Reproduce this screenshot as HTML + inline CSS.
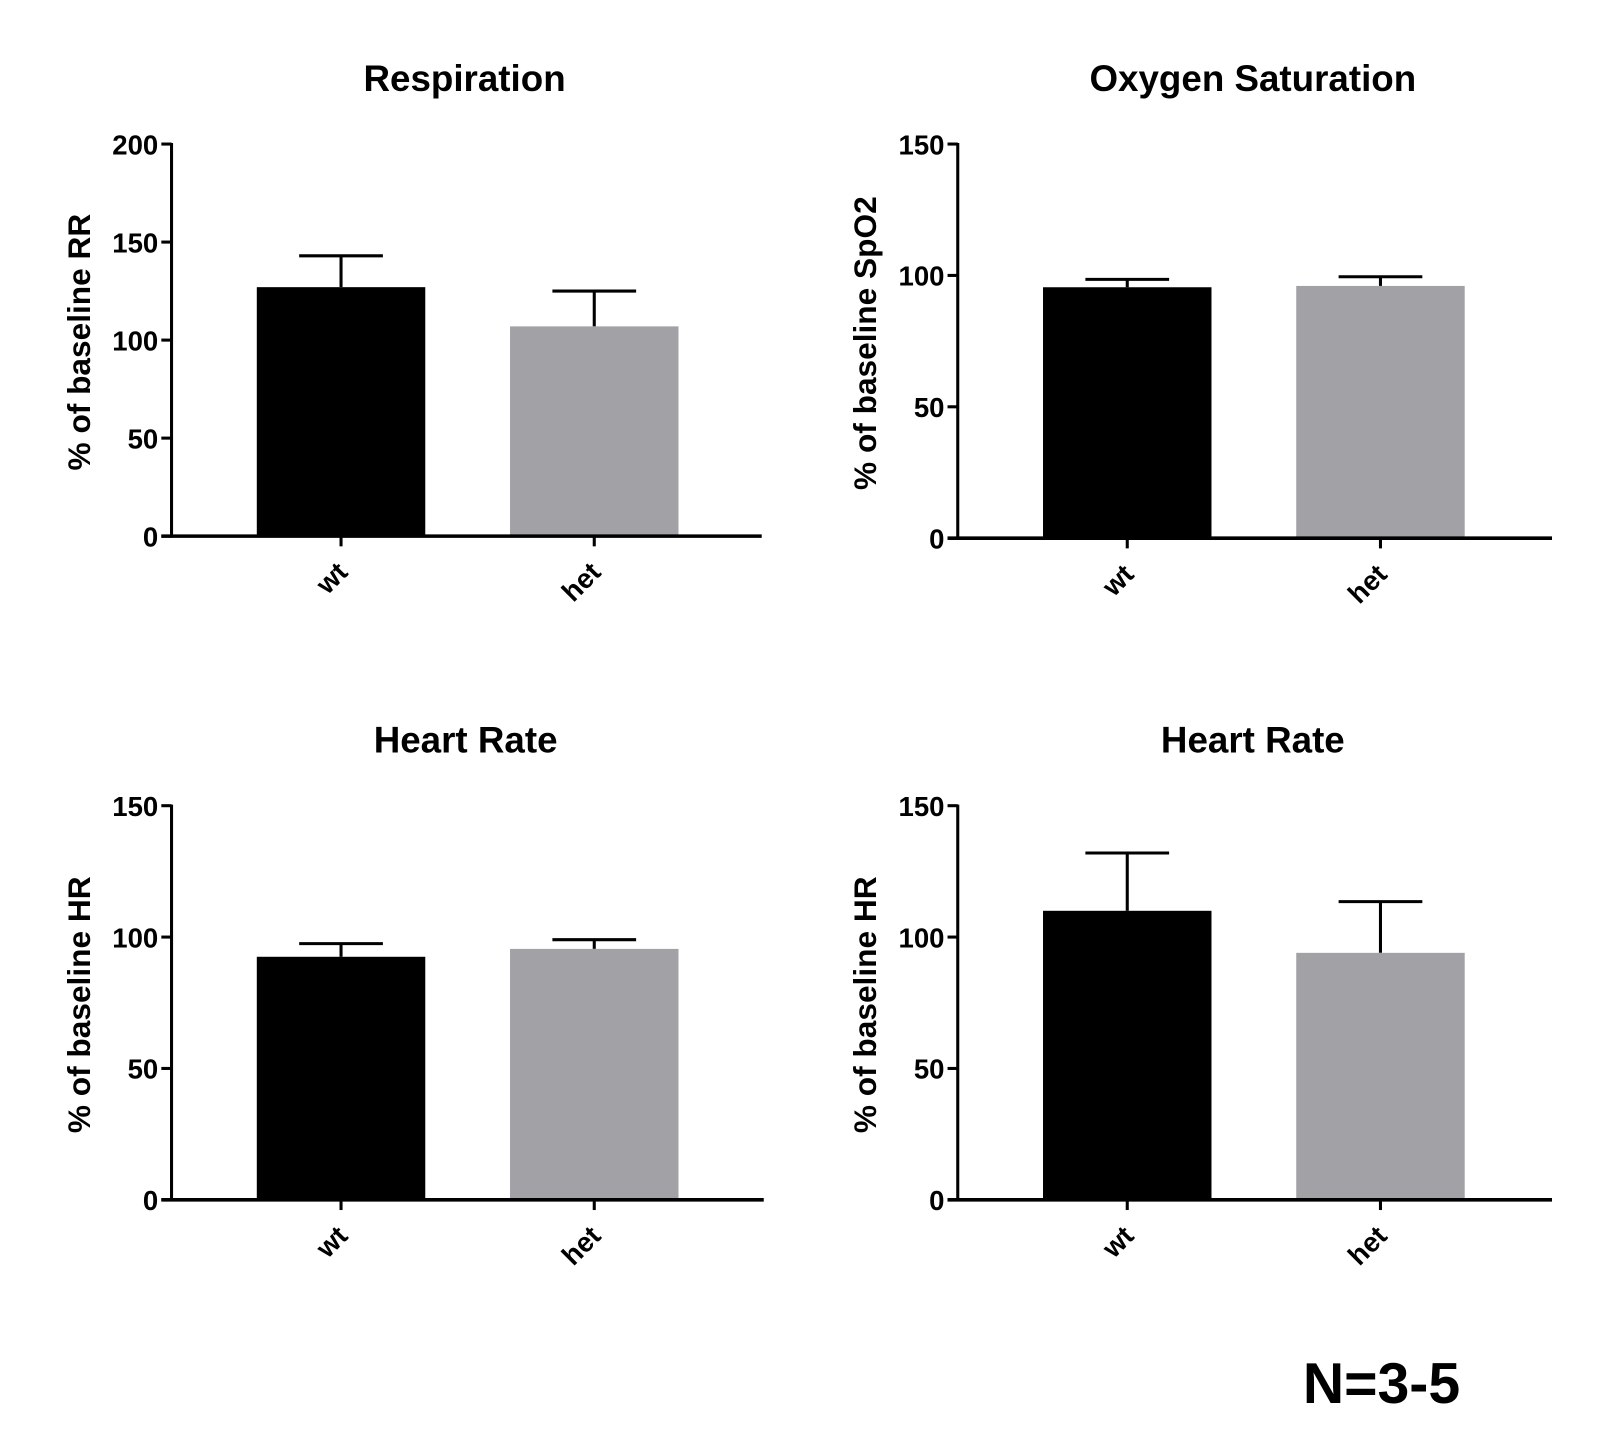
<!DOCTYPE html>
<html><head><meta charset="utf-8"><style>
html,body{margin:0;padding:0;background:#fff;}
svg{display:block;font-family:"Liberation Sans",Arial,sans-serif;font-weight:bold;}
</style></head><body>
<svg id="fig" width="1600" height="1447" viewBox="0 0 1567 1417" xmlns="http://www.w3.org/2000/svg">
<text x="1353" y="1374" font-size="56" text-anchor="middle">N=3-5</text>
</svg>
<script>
const categories = ["wt", "het"];
const titles = ["Respiration", "Oxygen Saturation", "Heart Rate", "Heart Rate"];
const yLabels = ["% of baseline RR", "% of baseline SpO2", "% of baseline HR", "% of baseline HR"];
const yMaxes = [200, 150, 150, 150];
const tickSteps = [50, 50, 50, 50];
const meansResp = [127, 107];
const errResp = [143, 125];
const meansSpO2 = [95.5, 96];
const errSpO2 = [98.5, 99.5];
const meansHR1 = [92.5, 95.5];
const errHR1 = [97.5, 99];
const meansHR2 = [110, 94];
const errHR2 = [132, 113.5];
const allMeans = [meansResp, meansSpO2, meansHR1, meansHR2];
const allErr = [errResp, errSpO2, errHR1, errHR2];
const colors = ["#000000", "#a2a1a6"];

const svg = document.getElementById('fig');
const NS = "http://www.w3.org/2000/svg";
function mk(tag, attrs, parent) {
  const e = document.createElementNS(NS, tag);
  for (const k in attrs) e.setAttribute(k, attrs[k]);
  (parent || svg).appendChild(e);
  return e;
}
const panels = [
  {ax: 168, right: 746, y0: 525, yTop: 141, titleY: 89},
  {ax: 938, right: 1520, y0: 527, yTop: 141, titleY: 89},
  {ax: 168, right: 748, y0: 1175, yTop: 789, titleY: 737},
  {ax: 938, right: 1520, y0: 1175, yTop: 789, titleY: 737}
];
panels.forEach((p, i) => {
  const g = mk('g', {});
  
  
  const yMax = yMaxes[i];
  const Y = v => p.y0 - (v / yMax) * (p.y0 - p.yTop);
  const barW = 165;
  const centers = [p.ax + 166, p.ax + 414];
  const X = k => centers[k];
  const t = mk('text', {x: (p.ax + p.right) / 2 - 2, y: p.titleY, 'font-size': 36, 'text-anchor': 'middle'}, g);
  t.textContent = titles[i];
  
  
  const yl = mk('text', {x: 0, y: 0, 'font-size': 31, 'text-anchor': 'middle', transform: `translate(${p.ax - 80},${(p.y0 + p.yTop) / 2 + 2}) rotate(-90)`}, g);
  yl.textContent = yLabels[i];
  
  
  allMeans[i].forEach((m, k) => {
    const cx = X(k);
    const e = allErr[i][k];
    const el = mk('line', {x1: cx, x2: cx, y1: Y(m), y2: Y(e), stroke: '#000', 'stroke-width': 3}, g);
    
    
    const cap = mk('line', {x1: cx - 41, x2: cx + 41, y1: Y(e), y2: Y(e), stroke: '#000', 'stroke-width': 3}, g);
    
    
    const r = mk('rect', {x: cx - barW / 2, y: Y(m), width: barW, height: p.y0 - Y(m), fill: colors[k]}, g);
    
    
    const tk = mk('line', {x1: cx, x2: cx, y1: p.y0, y2: p.y0 + 10, stroke: '#000', 'stroke-width': 3}, g);
    
    
    const lab = mk('text', {x: 0, y: 0, 'font-size': 27, 'text-anchor': 'end', transform: `translate(${cx + 8},${p.y0 + 37}) rotate(-45)`}, g);
    lab.textContent = categories[k];
    
    
  });
  const ya = mk('line', {x1: p.ax, x2: p.ax, y1: p.yTop - 1, y2: p.y0 + 1.5, stroke: '#000', 'stroke-width': 3}, g);
  
  
  const xa = mk('line', {x1: p.ax - 10, x2: p.right, y1: p.y0, y2: p.y0, stroke: '#000', 'stroke-width': 3.5}, g);
  
  
  for (let v = 0; v <= yMax; v += tickSteps[i]) {
    const tk = mk('line', {x1: p.ax - 10, x2: p.ax, y1: Y(v), y2: Y(v), stroke: '#000', 'stroke-width': 3}, g);
    
    
    const tl = mk('text', {x: p.ax - 13, y: Y(v) + 10, 'font-size': 27, 'text-anchor': 'end'}, g);
    tl.textContent = v;
    
    
  }
});
</script>
</body></html>
